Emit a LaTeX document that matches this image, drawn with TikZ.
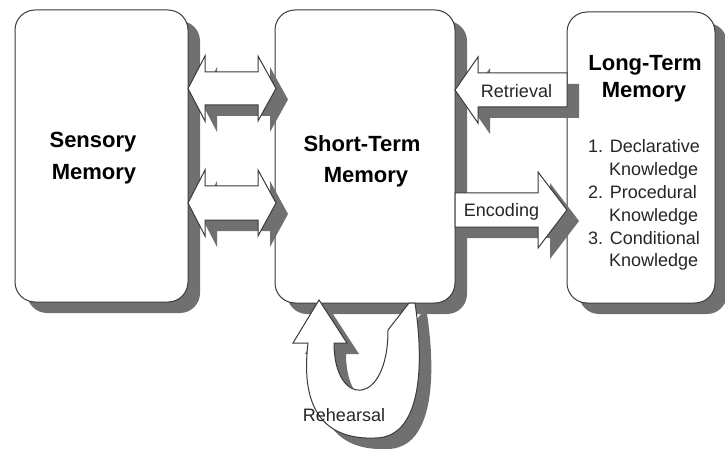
\documentclass[tikz,border=0pt]{standalone}
\usepackage{fontspec}
\setmainfont{Liberation Sans}
\usetikzlibrary{shadows}
\definecolor{shadowgray}{HTML}{707070}
\definecolor{linegray}{HTML}{3A3A3A}
\definecolor{textgray}{HTML}{262626}
\newcommand\arrUpper{(188,88.5) -- (205,56) -- (205,72) -- (258,72) -- (258,56) -- (276,88.5) -- (258,121) -- (258,105) -- (205,105) -- (205,121) -- cycle}
\newcommand\arrLower{(188,203) -- (205,170) -- (205,186) -- (258,186) -- (258,170) -- (276,203) -- (258,236) -- (258,220) -- (205,220) -- (205,236) -- cycle}
\newcommand\arrRetr{(455,90) -- (478,57) -- (478,73) -- (567,73) -- (567,107) -- (478,107) -- (478,123) -- cycle}
\newcommand\arrEnc{(455,193) -- (538,193) -- (538,172) -- (567,210) -- (538,248) -- (538,227) -- (455,227) -- cycle}
\newcommand\arrReh{(319,300) -- (347,343) -- (334,343) .. controls (334,408) and (388,408) .. (388,330) -- (409,303) -- (415,303) .. controls (425,370) and (420,438) .. (375,438) .. controls (325,440) and (300,410) .. (308,343) -- (293,343) -- cycle}
\begin{document}
\begin{tikzpicture}[x=1pt,y=-1pt,
  membox/.style={draw=linegray, line width=1pt, fill=white, rounded corners=20pt,
    inner sep=0pt, outer sep=0pt,
    drop shadow={shadow xshift=12pt, shadow yshift=-11pt, fill=shadowgray, opacity=1}},
  title/.style={font=\fontsize{22}{26}\selectfont\bfseries, anchor=base, text=black, inner sep=0pt},
  lbl/.style={font=\fontsize{18}{22}\selectfont, anchor=base, text=textgray, inner sep=0pt},
  blockarrow/.style={draw=linegray, line width=1pt, fill=white, line join=miter},
  shad/.style={fill=shadowgray, shift={(12,11)}}]
\useasboundingbox (0,0) rectangle (725,449);
\fill[white] (0,0) rectangle (725,449);
% boxes
\node[membox, minimum width=173pt, minimum height=292pt] (sens) at (101.5,156) {};
\node[membox, minimum width=180pt, minimum height=293pt] (stm) at (365,156.5) {};
\node[membox, minimum width=148pt, minimum height=291pt] (ltm) at (641,157.5) {};
% arrows
\fill[shad] \arrUpper;
\draw[blockarrow] \arrUpper;
\fill[shad] \arrLower;
\draw[blockarrow] \arrLower;
\fill[shad] \arrRetr;
\draw[blockarrow] \arrRetr;
\fill[shad] \arrEnc;
\draw[blockarrow] \arrEnc;
\fill[shad] \arrReh;
\draw[blockarrow] \arrReh;
% titles
\node[title] (sens1) at (93,148) {Sensory};
\node[title] (sens2) at (94,179) {Memory};
\node[title] (stm1) at (362,152) {Short-Term};
\node[title] (stm2) at (366,182.5) {Memory};
\node[title] (ltm1) at (645,71) {Long-Term};
\node[title] (ltm2) at (644,97.5) {Memory};
% list
\node[lbl, anchor=base west] (d1) at (588,153) {1. Declarative};
\node[lbl, anchor=base west] (d1b) at (609,176) {Knowledge};
\node[lbl, anchor=base west] (d2) at (588,199) {2. Procedural};
\node[lbl, anchor=base west] (d2b) at (609,221) {Knowledge};
\node[lbl, anchor=base west] (d3) at (588,244) {3. Conditional};
\node[lbl, anchor=base west] (d3b) at (609,266) {Knowledge};
% arrow labels
\node[lbl] (retr) at (516.5,98) {Retrieval};
\node[lbl] (enc) at (501.5,216) {Encoding};
\node[lbl] (reh) at (344,421) {Rehearsal};
\end{tikzpicture}
\end{document}
